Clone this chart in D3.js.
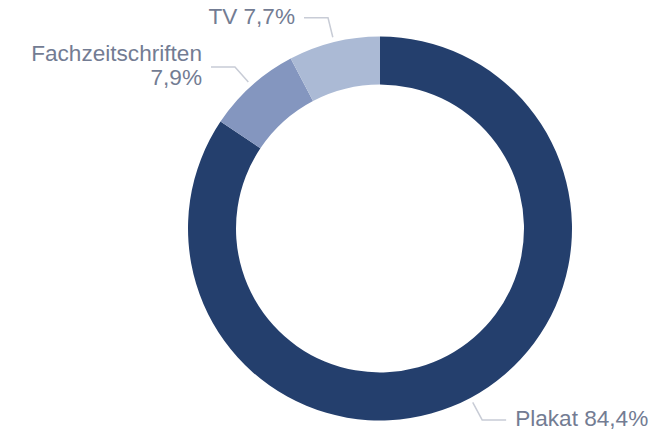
<!DOCTYPE html>
<html>
<head>
<meta charset="utf-8">
<script src="https://cdn.jsdelivr.net/npm/d3@7"></script>
<style>
  html, body { margin: 0; padding: 0; background: #ffffff; }
  svg { display: block; }
</style>
</head>
<body>
<svg id="chart" width="667" height="430"></svg>
<script>
const categories = ["Plakat", "Fachzeitschriften", "TV"];
const values = [84.4, 7.9, 7.7];
const valueLabels = ["84,4%", "7,9%", "7,7%"];
const labelLines = [["Plakat 84,4%"], ["Fachzeitschriften", "7,9%"], ["TV 7,7%"]];
const colors = ["#243f6d", "#8496bf", "#abbad5"];

const svg = d3.select("#chart");
const cx = 380, cy = 228.5, outerR = 192, innerR = 144;
const g = svg.append("g").attr("transform", `translate(${cx},${cy})`);

const pie = d3.pie().sort(null).value(d => d.value);
const data = categories.map((c, i) => ({ name: c, value: values[i], lines: labelLines[i], color: colors[i] }));
const arcs = pie(data);

const arc = d3.arc().innerRadius(innerR).outerRadius(outerR);

g.selectAll("path.slice")
  .data(arcs)
  .enter().append("path")
  .attr("class", "slice")
  .attr("d", arc)
  .attr("fill", d => d.data.color);

const r1 = 197, r2 = 217, hLen = 24, gap = 9, fs = 22.6, lh = 24;

arcs.forEach(a => {
  const mid = (a.startAngle + a.endAngle) / 2;
  const s = Math.sin(mid), c = -Math.cos(mid);
  const p1 = [r1 * s, r1 * c];
  const p2 = [r2 * s, r2 * c];
  const right = s > 0;
  const p3 = [p2[0] + (right ? hLen : -hLen), p2[1]];
  g.append("polyline")
    .attr("points", [p1, p2, p3].map(p => p.join(",")).join(" "))
    .attr("fill", "none")
    .attr("stroke", "#c8ccd6")
    .attr("stroke-width", 1.5);
  const lines = a.data.lines;
  const tx = p3[0] + (right ? gap : -gap);
  const startY = p2[1] + 6 - (lines.length - 1) * lh / 2;
  const t = g.append("text")
    .attr("x", tx)
    .attr("text-anchor", right ? "start" : "end")
    .attr("font-family", "'Liberation Sans', Arial, sans-serif")
    .attr("font-size", fs)
    .attr("fill", "#737c93");
  lines.forEach((ln, i) => {
    t.append("tspan").attr("x", tx).attr("y", startY + i * lh).text(ln);
  });
});
</script>
</body>
</html>
